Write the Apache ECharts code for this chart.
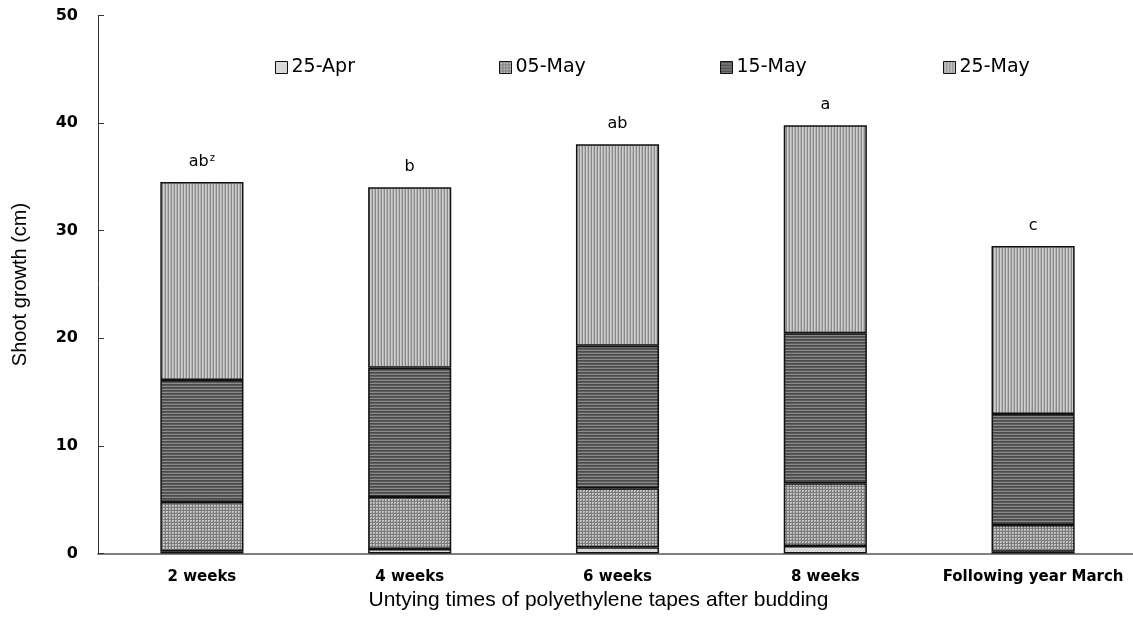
<!DOCTYPE html>
<html>
<head>
<meta charset="utf-8">
<script src="https://cdn.jsdelivr.net/npm/echarts@6/dist/echarts.min.js"></script>
<style>
html,body{margin:0;padding:0;background:#fff;}
#chart{width:1133px;height:621px;}
</style>
</head>
<body>
<div id="chart"></div>
<script>
// ---- data ----
var categories = ['2 weeks', '4 weeks', '6 weeks', '8 weeks', 'Following year March'];
var seriesNames = ['25-Apr', '05-May', '15-May', '25-May'];
var apr25 = [0.2, 0.42, 0.58, 0.7, 0.17];
var may05 = [4.59, 4.83, 5.48, 5.82, 2.48];
var may15 = [11.33, 12.02, 13.25, 13.94, 10.31];
var may25 = [18.41, 16.76, 18.72, 19.34, 15.62];
var sigLetters = ['ab', 'b', 'ab', 'a', 'c'];
var sigSuper = ['z', '', '', '', ''];
var yTicks = [0, 10, 20, 30, 40, 50];

// ---- patterns ----
function makePattern(w, h, draw) {
  var c = document.createElement('canvas');
  c.width = w; c.height = h;
  var ctx = c.getContext('2d');
  draw(ctx);
  return { image: c, repeat: 'repeat' };
}
function px(ctx, col, x, y) { ctx.fillStyle = col; ctx.fillRect(x, y, 1, 1); }

var patApr = makePattern(3, 3, function (ctx) {
  ctx.fillStyle = '#e2e2e2'; ctx.fillRect(0, 0, 3, 3);
  px(ctx, '#c4c4c4', 0, 0); px(ctx, '#c4c4c4', 2, 1); px(ctx, '#cccccc', 1, 2);
});
var patMay05 = makePattern(3, 3, function (ctx) {
  ctx.fillStyle = '#c6c6c6'; ctx.fillRect(0, 0, 3, 3);
  ctx.fillStyle = '#7c7c7c'; ctx.fillRect(0, 0, 3, 1); ctx.fillRect(0, 0, 1, 3);
  px(ctx, '#a0a0a0', 2, 2);
});
var patMay15 = makePattern(1, 3, function (ctx) {
  ctx.fillStyle = '#5c5c5c'; ctx.fillRect(0, 0, 1, 3);
  ctx.fillStyle = '#8a8a8a'; ctx.fillRect(0, 2, 1, 1);
  ctx.fillStyle = '#4a4a4a'; ctx.fillRect(0, 0, 1, 1);
});
var patMay25 = makePattern(3, 1, function (ctx) {
  ctx.fillStyle = '#cfcfcf'; ctx.fillRect(0, 0, 3, 1);
  ctx.fillStyle = '#8a8a8a'; ctx.fillRect(0, 0, 1, 1);
  ctx.fillStyle = '#b4b4b4'; ctx.fillRect(2, 0, 1, 1);
});
var patterns = [patApr, patMay05, patMay15, patMay25];
var values = [apr25, may05, may15, may25];

var chart = echarts.init(document.getElementById('chart'), null, { renderer: 'canvas' });

var series = seriesNames.map(function (name, i) {
  var s = {
    name: name,
    type: 'bar',
    stack: 'total',
    barWidth: '40%',
    data: values[i],
    itemStyle: { color: patterns[i], borderColor: '#111', borderWidth: 1.5 },
    emphasis: { disabled: true },
    animation: false
  };
  if (i === 3) {
    s.label = {
      show: true,
      position: 'top',
      distance: 11,
      formatter: function (p) {
        var sup = sigSuper[p.dataIndex];
        return '{n|' + sigLetters[p.dataIndex] + '}' + (sup ? '{s|' + sup + '}' : '');
      },
      rich: {
        n: { fontFamily: 'DejaVu Sans', fontSize: 16, color: '#000', lineHeight: 18 },
        s: { fontFamily: 'DejaVu Sans', fontSize: 10, color: '#000', verticalAlign: 'top', lineHeight: 10, padding: [0, 0, 6, 1] }
      }
    };
  }
  return s;
});

var legendLefts = [270, 494, 715, 938];
var legends = seriesNames.map(function (name, i) {
  return {
    data: [name],
    left: legendLefts[i],
    top: 53,
    icon: 'rect',
    itemWidth: 12,
    itemHeight: 12,
    itemGap: 4,
    selectedMode: false,
    itemStyle: { borderColor: '#111', borderWidth: 1 },
    textStyle: { fontFamily: 'DejaVu Sans', fontSize: 19, color: '#000', padding: [0, 0, 0, -1] }
  };
});

chart.setOption({
  backgroundColor: '#fff',
  animation: false,
  legend: legends,
  grid: { left: 98, right: -4, top: 15.5, bottom: 67.5, containLabel: false, outerBoundsMode: 'none' },
  xAxis: {
    type: 'category',
    data: categories,
    name: 'Untying times of polyethylene tapes after budding',
    nameLocation: 'middle',
    nameGap: 30,
    nameTextStyle: { fontFamily: 'Liberation Sans', fontSize: 21, color: '#000', padding: [0, 38, 0, 0] },
    axisLine: { lineStyle: { color: '#808080', width: 2 } },
    axisTick: { inside: true, length: 5, lineStyle: { color: '#000', width: 1 } },
    axisLabel: { interval: 0, fontFamily: 'DejaVu Sans', fontWeight: 'bold', fontSize: 15, color: '#000', margin: 16 }
  },
  yAxis: {
    type: 'value',
    min: yTicks[0],
    max: yTicks[yTicks.length - 1],
    interval: yTicks[1] - yTicks[0],
    name: 'Shoot growth (cm)',
    nameLocation: 'middle',
    nameGap: 68,
    nameTextStyle: { fontFamily: 'Liberation Sans', fontSize: 20, color: '#000' },
    axisLine: { show: true, lineStyle: { color: '#333', width: 1 } },
    axisTick: { show: true, inside: true, length: 6, lineStyle: { color: '#333', width: 1 } },
    axisLabel: { fontFamily: 'DejaVu Sans', fontWeight: 'bold', fontSize: 16, color: '#000', margin: 20 },
    splitLine: { show: false }
  },
  series: series
});
</script>
</body>
</html>
